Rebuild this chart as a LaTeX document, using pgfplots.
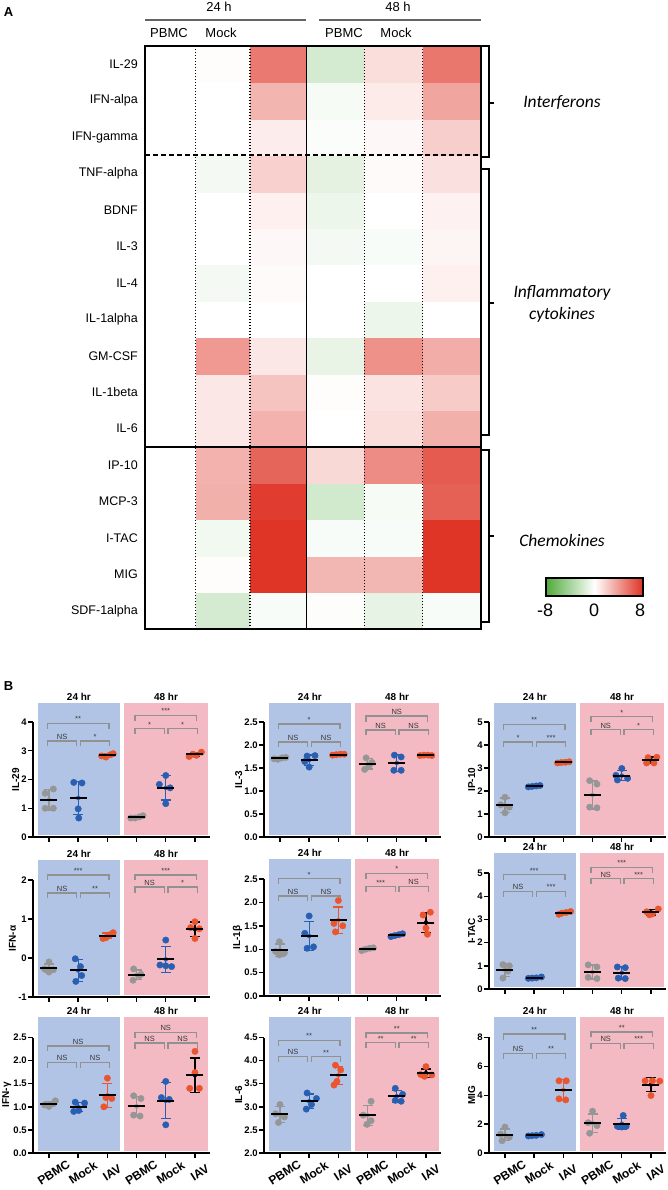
\documentclass[border=0pt]{standalone}
\usepackage{pgfplots}
\pgfplotsset{compat=1.18}
\usepackage{fontspec}
\setmainfont{Liberation Sans}
\newfontfamily\calib{Carlito}
\definecolor{bbg}{RGB}{178,196,229}
\definecolor{pbg}{RGB}{244,186,196}
\definecolor{cg}{RGB}{150,150,150}
\definecolor{cb}{RGB}{40,95,178}
\definecolor{co}{RGB}{234,85,45}
\definecolor{sg}{RGB}{145,145,145}
\definecolor{st}{RGB}{55,55,55}
\definecolor{hg}{RGB}{80,170,60}
\definecolor{hr}{RGB}{222,50,36}
\definecolor{hl}{RGB}{100,100,100}
\pgfplotsset{
 bpanel/.style={
  scale only axis, anchor=south west, clip=false,
  x=29.2pt, xmin=0.45, xmax=6.5,
  axis x line*=bottom, axis y line*=left,
  x axis line style={line width=1.6pt, -},
  y axis line style={draw=none},
  xtick={1,2,3,4,5,6}, xticklabels={},
  major tick length=5pt, tick align=outside,
  tick style={black, line width=1.4pt},
  ticklabel style={font=\bfseries\fontsize{9.5}{10}\selectfont},
  yticklabel style={inner sep=1pt},
  ylabel style={font=\bfseries\fontsize{10}{11}\selectfont, inner sep=1pt, at={(ticklabel cs:0.427)}},
  /pgf/number format/assume math mode=true,
 },
 dec/.style={/pgf/number format/.cd, fixed, precision=1, fixed zerofill},
 rowthree/.style={xticklabels={PBMC,Mock,IAV,PBMC,Mock,IAV},
   xticklabel style={rotate=33, anchor=center, yshift=-15pt, xshift=-4pt, font=\bfseries\fontsize{12}{13}\selectfont}},
}
\newcommand{\bg}[3]{%
 \fill[bbg] ([yshift=2.5pt]axis cs:0.62,#1) rectangle (axis cs:3.43,#2);
 \fill[pbg] ([yshift=2.5pt]axis cs:3.57,#1) rectangle (axis cs:6.45,#2);
 \draw[line width=1.6pt] ([yshift=-0.8pt]axis cs:0.45,#1) -- (axis cs:0.45,#3);
 \node[anchor=south, inner sep=0pt, font=\bfseries\fontsize{10}{11}\selectfont] at ([yshift=2pt]axis cs:2.025,#2) {24 hr};
 \node[anchor=south, inner sep=0pt, font=\bfseries\fontsize{10}{11}\selectfont] at ([yshift=2pt]axis cs:5.01,#2) {48 hr};
}
\newcommand{\eb}[4]{\addplot[only marks, mark=none, #1, error bars/.cd, y dir=both, y explicit, error bar style={line width=1.3pt, #1}, error mark options={rotate=90, mark size=5pt, line width=1.3pt, #1}] coordinates {(#2,#3) +- (0,#4)};}
\newcommand{\pts}[1]{\addplot[scatter, only marks, mark=*, mark size=3.2pt, scatter src=explicit symbolic, scatter/classes={g={mark=*,draw=cg,fill=cg}, b={mark=*,draw=cb,fill=cb}, o={mark=*,draw=co,fill=co}}] coordinates {#1};}
\newcommand{\mns}[1]{\addplot[only marks, mark=-, mark size=8.5pt, mark options={line width=2pt}, black] coordinates {#1};}
\newcommand{\brk}[4]{\draw[sg, line width=1.5pt] ([yshift=-5.5pt]axis cs:#1,#3) -- (axis cs:#1,#3) -- node[anchor=south, inner sep=0.7pt, text=st, font=\fontsize{7.5}{8}\selectfont]{#4} (axis cs:#2,#3) -- ([yshift=-5.5pt]axis cs:#2,#3);}
\newcommand{\sigA}[5]{\brk{0.95}{3.05}{#1}{#3}\brk{0.95}{1.95}{#2}{#4}\brk{2.08}{3.08}{#2}{#5}}
\newcommand{\sigB}[5]{\brk{3.95}{6.05}{#1}{#3}\brk{3.95}{4.95}{#2}{#4}\brk{5.08}{6.08}{#2}{#5}}
\begin{document}
\begin{tikzpicture}
\useasboundingbox (0pt,0pt) rectangle (667pt,-1190pt);
% ---------------- Panel A ----------------
\node[font=\bfseries\fontsize{13}{14}\selectfont] at (8.5pt,-12pt) {A};
\node[font=\fontsize{13}{14}\selectfont] at (219pt,-7pt) {24 h};
\node[font=\fontsize{13}{14}\selectfont] at (398pt,-7pt) {48 h};
\draw[hl, line width=1.2pt] (145pt,-20pt) -- (306pt,-20pt);
\draw[hl, line width=1.2pt] (319pt,-20pt) -- (481pt,-20pt);
\node[font=\fontsize{13}{14}\selectfont] at (169pt,-33pt) {PBMC};
\node[font=\fontsize{13}{14}\selectfont] at (221pt,-33pt) {Mock};
\node[font=\fontsize{13}{14}\selectfont] at (344pt,-33pt) {PBMC};
\node[font=\fontsize{13}{14}\selectfont] at (396pt,-33pt) {Mock};
\begin{axis}[at={(145pt,-629pt)}, anchor=south west, scale only axis,
 width=336pt, height=583pt, xmin=145, xmax=481, ymin=-0.5, ymax=15.5,
 colormap={gwr}{rgb255=(80,170,60) rgb255=(255,255,255) rgb255=(222,50,36)},
 point meta min=-8, point meta max=8,
 xtick=\empty, ytick={0,...,15},
 yticklabels={SDF-1alpha,MIG,I-TAC,MCP-3,IP-10,IL-6,IL-1beta,GM-CSF,IL-1alpha,IL-4,IL-3,BDNF,TNF-alpha,IFN-gamma,IFN-alpa,IL-29},
 major tick length=0pt, tick style={draw=none},
 yticklabel style={font=\fontsize{12.5}{14}\selectfont, inner sep=0pt, xshift=-7pt},
 axis line style={line width=2pt}, axis on top]
\addplot[matrix plot*, mesh/cols=6, point meta=explicit] table[meta=c] {
x y c
169.5 0 0
222 0 -1.9
278 0 -0.3
335 0 -0.1
393.5 0 -1.1
452 0 -0.3
169.5 1 0
222 1 0.1
278 1 7.9
335 1 2.8
393.5 1 2.8
452 1 7.9
169.5 2 0
222 2 -0.6
278 2 7.9
335 2 -0.3
393.5 2 -0.3
452 2 7.9
169.5 3 0
222 3 3.1
278 3 7.6
335 3 -2.1
393.5 3 -0.4
452 3 6.2
169.5 4 0
222 4 3.0
278 4 6.0
335 4 1.5
393.5 4 4.5
452 4 6.4
169.5 5 0
222 5 0.9
278 5 3.0
335 5 0
393.5 5 1.3
452 5 3.1
169.5 6 0
222 6 0.9
278 6 2.3
335 6 0.1
393.5 6 1.1
452 6 2.0
169.5 7 0
222 7 4.0
278 7 0.9
335 7 -1.0
393.5 7 4.3
452 7 3.2
169.5 8 0
222 8 0
278 8 0
335 8 0
393.5 8 -0.8
452 8 0
169.5 9 0
222 9 -0.5
278 9 0.2
335 9 0
393.5 9 0
452 9 0.6
169.5 10 0
222 10 0
278 10 0.3
335 10 -0.5
393.5 10 -0.3
452 10 0.4
169.5 11 0
222 11 0
278 11 0.6
335 11 -0.8
393.5 11 0
452 11 0.5
169.5 12 0
222 12 -0.5
278 12 1.8
335 12 -1.2
393.5 12 0.2
452 12 1.2
169.5 13 0
222 13 0
278 13 0.7
335 13 -0.2
393.5 13 0.3
452 13 1.9
169.5 14 0
222 14 0
278 14 2.9
335 14 -0.4
393.5 14 0.8
452 14 3.5
169.5 15 0
222 15 0.1
278 15 5.2
335 15 -1.9
393.5 15 1.3
452 15 5.3
};
\draw[line width=1.4pt, dash pattern=on 1.4pt off 1.6pt] (axis cs:195.75,-0.5) -- (axis cs:195.75,15.5);
\draw[line width=1.4pt, dash pattern=on 1.4pt off 1.6pt] (axis cs:250,-0.5) -- (axis cs:250,15.5);
\draw[line width=1.4pt, dash pattern=on 1.4pt off 1.6pt] (axis cs:364.25,-0.5) -- (axis cs:364.25,15.5);
\draw[line width=1.4pt, dash pattern=on 1.4pt off 1.6pt] (axis cs:422.75,-0.5) -- (axis cs:422.75,15.5);
\draw[line width=1.6pt] (axis cs:306.5,-0.5) -- (axis cs:306.5,15.5);
\draw[line width=1.8pt, dash pattern=on 5pt off 3pt] (axis cs:145,12.5) -- (axis cs:481,12.5);
\draw[line width=1.6pt] (axis cs:145,4.5) -- (axis cs:481,4.5);
\end{axis}
% brackets
\draw[line width=1.8pt] (482pt,-46pt) -- (489pt,-46pt) -- (489pt,-157pt) -- (482pt,-157pt);
\draw[line width=1.8pt] (489pt,-103pt) -- (494pt,-103pt);
\draw[line width=1.8pt] (482pt,-169pt) -- (489pt,-169pt) -- (489pt,-435pt) -- (482pt,-435pt);
\draw[line width=1.8pt] (489pt,-303pt) -- (494pt,-303pt);
\draw[line width=1.8pt] (482pt,-450pt) -- (489pt,-450pt) -- (489pt,-622pt) -- (482pt,-622pt);
\draw[line width=1.8pt] (489pt,-536pt) -- (494pt,-536pt);
\node[font=\calib\itshape\fontsize{17.5}{19}\selectfont] at (562pt,-103pt) {Interferons};
\node[font=\calib\itshape\fontsize{17.5}{19}\selectfont] at (562pt,-293pt) {Inflammatory};
\node[font=\calib\itshape\fontsize{17.5}{19}\selectfont] at (562pt,-315pt) {cytokines};
\node[font=\calib\itshape\fontsize{17.5}{19}\selectfont] at (562pt,-540pt) {Chemokines};
% colorbar
\shade[left color=hg, right color=hr, middle color=white] (546pt,-578pt) rectangle (643pt,-596pt);
\draw[line width=1.2pt] (546pt,-578pt) rectangle (643pt,-596pt);
\node[font=\fontsize{18}{20}\selectfont] at (545pt,-610pt) {-8};
\node[font=\fontsize{18}{20}\selectfont] at (594pt,-610pt) {0};
\node[font=\fontsize{18}{20}\selectfont] at (640pt,-610pt) {8};
% ---------------- Panel B ----------------
\node[font=\bfseries\fontsize{13}{14}\selectfont] at (8.5pt,-686pt) {B};
% IL-29
\begin{axis}[bpanel, at={(32.9pt,-837pt)}, y=28.75pt, ymin=0, ymax=4.661, ytick={0,1,2,3,4}, ylabel={IL-29}]
\bg{0}{4.661}{4}
\eb{cg}{1}{1.30}{0.36}\eb{cb}{2}{1.36}{0.58}\eb{co}{3}{2.84}{0.05}
\eb{cg}{4}{0.69}{0.04}\eb{cb}{5}{1.71}{0.42}\eb{black}{6}{2.87}{0.07}
\pts{(1.15,1.67)[g] (0.87,1.52)[g] (0.87,1.0)[g] (1.15,1.0)[g]
(1.85,1.9)[b] (2.13,1.88)[b] (2.0,0.98)[b] (2.02,0.66)[b]
(2.8,2.82)[o] (2.95,2.78)[o] (3.1,2.86)[o] (3.2,2.9)[o]
(3.8,0.66)[g] (3.95,0.66)[g] (4.1,0.7)[g] (4.22,0.74)[g]
(5.0,2.14)[b] (4.78,1.83)[b] (5.15,1.71)[b] (5.0,1.16)[b]
(5.8,2.8)[o] (6.05,2.84)[o] (6.22,2.95)[o] (5.93,2.88)[o]}
\mns{(1,1.30) (2,1.36) (3,2.84) (4,0.69) (5,1.71) (6,2.87)}
\sigA{3.95}{3.34}{**}{NS}{*}\sigB{4.23}{3.77}{***}{*}{*}
\end{axis}
% IL-3
\begin{axis}[bpanel, at={(263.9pt,-837pt)}, y=46pt, ymin=0, ymax=2.913, ytick={0,0.5,1,1.5,2,2.5}, yticklabel style={dec}, ylabel={IL-3}]
\bg{0}{2.913}{2.5}
\eb{cg}{1}{1.71}{0.02}\eb{cb}{2}{1.67}{0.11}\eb{co}{3}{1.79}{0.015}
\eb{cg}{4}{1.59}{0.11}\eb{cb}{5}{1.61}{0.18}\eb{black}{6}{1.78}{0.01}
\pts{(0.8,1.70)[g] (0.93,1.69)[g] (1.07,1.72)[g] (1.2,1.73)[g]
(1.93,1.76)[b] (2.2,1.77)[b] (1.85,1.64)[b] (2.0,1.52)[b]
(2.8,1.78)[o] (2.93,1.79)[o] (3.07,1.80)[o] (3.2,1.80)[o]
(3.95,1.72)[g] (4.15,1.62)[g] (3.9,1.47)[g] (4.05,1.55)[g]
(4.92,1.78)[b] (5.15,1.74)[b] (4.9,1.45)[b] (5.15,1.45)[b]
(5.8,1.77)[o] (5.93,1.78)[o] (6.07,1.78)[o] (6.2,1.77)[o]}
\mns{(1,1.71) (2,1.67) (3,1.79) (4,1.59) (5,1.61) (6,1.78)}
\sigA{2.46}{2.07}{*}{NS}{NS}\sigB{2.63}{2.33}{NS}{NS}{NS}
\end{axis}
% IP-10
\begin{axis}[bpanel, at={(488.9pt,-837pt)}, y=23pt, ymin=0, ymax=5.826, ytick={0,1,2,3,4,5}, ylabel={IP-10}]
\bg{0}{5.826}{5}
\eb{cg}{1}{1.38}{0.31}\eb{cb}{2}{2.21}{0.03}\eb{co}{3}{3.245}{0.02}
\eb{cg}{4}{1.83}{0.61}\eb{cb}{5}{2.67}{0.22}\eb{black}{6}{3.34}{0.14}
\pts{(1.0,1.73)[g] (0.85,1.4)[g] (1.15,1.3)[g] (1.0,1.05)[g]
(1.8,2.18)[b] (1.93,2.2)[b] (2.07,2.22)[b] (2.2,2.24)[b]
(2.8,3.22)[o] (2.93,3.24)[o] (3.07,3.25)[o] (3.2,3.27)[o]
(3.9,2.45)[g] (4.15,2.3)[g] (3.9,1.3)[g] (4.15,1.27)[g]
(5.0,2.98)[b] (4.8,2.68)[b] (5.2,2.55)[b] (4.85,2.48)[b]
(5.9,3.45)[o] (6.2,3.47)[o] (5.85,3.22)[o] (6.1,3.22)[o]}
\mns{(1,1.38) (2,2.21) (3,3.245) (4,1.83) (5,2.67) (6,3.34)}
\sigA{4.9}{4.14}{**}{*}{***}\sigB{5.24}{4.67}{*}{NS}{*}
\end{axis}
% IFN-alpha
\begin{axis}[bpanel, at={(32.9pt,-997pt)}, y=39pt, ymin=-1, ymax=2.513, ytick={-1,0,1,2}, ylabel={IFN-α}]
\bg{-1}{2.513}{2}
\eb{cg}{1}{-0.26}{0.11}\eb{cb}{2}{-0.32}{0.28}\eb{co}{3}{0.57}{0.07}
\eb{cg}{4}{-0.43}{0.12}\eb{cb}{5}{-0.035}{0.33}\eb{black}{6}{0.74}{0.18}
\pts{(1.0,-0.1)[g] (0.85,-0.28)[g] (1.15,-0.3)[g] (1.0,-0.36)[g]
(1.9,-0.02)[b] (2.08,-0.22)[b] (2.12,-0.45)[b] (1.92,-0.6)[b]
(2.85,0.5)[o] (2.95,0.52)[o] (3.1,0.6)[o] (3.2,0.65)[o]
(3.9,-0.28)[g] (4.15,-0.42)[g] (3.88,-0.57)[g] (4.1,-0.45)[g]
(5.0,0.46)[b] (4.8,-0.18)[b] (5.0,-0.2)[b] (5.2,-0.22)[b]
(6.0,0.93)[o] (5.85,0.78)[o] (6.15,0.75)[o] (6.0,0.5)[o]}
\mns{(1,-0.26) (2,-0.32) (3,0.57) (4,-0.43) (5,-0.035) (6,0.74)}
\sigA{2.13}{1.67}{***}{NS}{**}\sigB{2.13}{1.82}{***}{NS}{*}
\end{axis}
% IL-1beta
\begin{axis}[bpanel, at={(263.9pt,-996pt)}, y=46.8pt, ymin=0, ymax=2.927, ytick={0,0.5,1,1.5,2,2.5}, yticklabel style={dec}, ylabel={IL-1β}]
\bg{0}{2.927}{2.5}
\eb{cg}{1}{0.98}{0.13}\eb{cb}{2}{1.28}{0.31}\eb{co}{3}{1.62}{0.28}
\eb{cg}{4}{1.0}{0.03}\eb{cb}{5}{1.30}{0.03}\eb{black}{6}{1.57}{0.21}
\pts{(0.98,1.16)[g] (0.85,0.95)[g] (1.15,0.92)[g] (0.98,0.88)[g]
(2.0,1.71)[b] (1.85,1.34)[b] (1.93,1.02)[b] (2.15,1.05)[b]
(3.0,2.04)[o] (2.85,1.55)[o] (3.15,1.5)[o] (2.9,1.37)[o]
(3.8,0.97)[g] (3.93,1.0)[g] (4.07,1.02)[g] (4.2,1.03)[g]
(4.8,1.27)[b] (4.93,1.29)[b] (5.07,1.31)[b] (5.2,1.33)[b]
(6.15,1.79)[o] (5.9,1.73)[o] (6.0,1.45)[o] (6.05,1.32)[o]}
\mns{(1,0.98) (2,1.28) (3,1.62) (4,1.0) (5,1.30) (6,1.57)}
\sigA{2.51}{2.14}{*}{NS}{NS}\sigB{2.62}{2.34}{*}{***}{NS}
\end{axis}
% I-TAC
\begin{axis}[bpanel, at={(488.9pt,-989pt)}, y=23.2pt, ymin=0, ymax=5.862, ytick={0,1,2,3,4,5}, ylabel={I-TAC}]
\bg{0}{5.862}{5}
\eb{cg}{1}{0.82}{0.27}\eb{cb}{2}{0.48}{0.03}\eb{co}{3}{3.28}{0.05}
\eb{cg}{4}{0.735}{0.3}\eb{cb}{5}{0.70}{0.28}\eb{black}{6}{3.305}{0.11}
\pts{(0.93,1.05)[g] (1.15,1.0)[g] (1.1,0.77)[g] (0.93,0.47)[g]
(1.8,0.46)[b] (1.93,0.47)[b] (2.07,0.48)[b] (2.25,0.52)[b]
(2.85,3.22)[o] (2.95,3.27)[o] (3.1,3.3)[o] (3.25,3.34)[o]
(3.85,1.04)[g] (4.15,0.95)[g] (3.85,0.5)[g] (4.15,0.45)[g]
(4.85,0.95)[b] (5.12,0.92)[b] (4.88,0.47)[b] (5.12,0.45)[b]
(6.25,3.45)[o] (5.85,3.33)[o] (6.05,3.24)[o] (5.95,3.2)[o]}
\mns{(1,0.82) (2,0.48) (3,3.28) (4,0.735) (5,0.70) (6,3.305)}
\sigA{4.93}{4.21}{***}{NS}{***}\sigB{5.24}{4.76}{***}{NS}{***}
\end{axis}
% IFN-gamma
\begin{axis}[bpanel, rowthree, at={(32.9pt,-1153pt)}, y=46.2pt, ymin=0, ymax=2.944, ytick={0,0.5,1,1.5,2,2.5}, yticklabel style={dec}, ylabel={IFN-γ}]
\bg{0}{2.944}{2.5}
\eb{cg}{1}{1.06}{0.05}\eb{cb}{2}{1.0}{0.1}\eb{co}{3}{1.25}{0.26}
\eb{cg}{4}{1.01}{0.22}\eb{cb}{5}{1.13}{0.39}\eb{black}{6}{1.685}{0.37}
\pts{(0.85,1.04)[g] (1.0,1.01)[g] (1.15,1.07)[g] (1.22,1.13)[g]
(1.9,1.1)[b] (2.22,1.08)[b] (2.02,0.92)[b] (1.85,0.9)[b]
(3.0,1.62)[o] (2.95,1.2)[o] (3.15,1.18)[o] (2.88,1.0)[o]
(3.9,1.24)[g] (4.15,1.18)[g] (3.9,0.82)[g] (4.12,0.8)[g]
(5.0,1.55)[b] (4.85,1.2)[b] (5.12,1.16)[b] (5.0,0.61)[b]
(6.0,2.2)[o] (6.0,1.74)[o] (5.82,1.4)[o] (6.15,1.4)[o]}
\mns{(1,1.06) (2,1.0) (3,1.25) (4,1.01) (5,1.13) (6,1.685)}
\sigA{2.32}{1.96}{NS}{NS}{NS}\sigB{2.61}{2.38}{NS}{NS}{NS}
\end{axis}
% IL-6
\begin{axis}[bpanel, rowthree, at={(263.9pt,-1153pt)}, y=46.2pt, ymin=2, ymax=4.944, ytick={2,2.5,3,3.5,4,4.5}, yticklabel style={dec}, ylabel={IL-6}]
\bg{2}{4.944}{4.5}
\eb{cg}{1}{2.835}{0.17}\eb{cb}{2}{3.12}{0.16}\eb{co}{3}{3.68}{0.2}
\eb{cg}{4}{2.815}{0.22}\eb{cb}{5}{3.23}{0.13}\eb{black}{6}{3.73}{0.09}
\pts{(1.0,3.05)[g] (0.85,2.85)[g] (1.15,2.78)[g] (0.95,2.66)[g]
(1.93,3.3)[b] (2.25,3.18)[b] (2.08,3.05)[b] (1.9,2.95)[b]
(2.9,3.9)[o] (3.08,3.8)[o] (2.95,3.55)[o] (2.85,3.47)[o]
(4.12,3.12)[g] (3.85,2.82)[g] (4.12,2.7)[g] (3.98,2.62)[g]
(4.95,3.4)[b] (5.2,3.27)[b] (4.95,3.14)[b] (5.15,3.12)[b]
(6.0,3.87)[o] (5.82,3.7)[o] (6.2,3.69)[o] (5.95,3.66)[o]}
\mns{(1,2.835) (2,3.12) (3,3.68) (4,2.815) (5,3.23) (6,3.73)}
\sigA{4.44}{4.09}{**}{NS}{**}\sigB{4.6}{4.39}{**}{**}{**}
\end{axis}
% MIG
\begin{axis}[bpanel, rowthree, at={(488.9pt,-1153pt)}, y=14.44pt, ymin=0, ymax=9.418, ytick={0,2,4,6,8}, ylabel={MIG}]
\bg{0}{9.418}{8}
\eb{cg}{1}{1.26}{0.4}\eb{cb}{2}{1.22}{0.04}\eb{co}{3}{4.36}{0.73}
\eb{cg}{4}{2.07}{0.63}\eb{cb}{5}{2.03}{0.38}\eb{black}{6}{4.74}{0.5}
\pts{(1.0,1.8)[g] (0.85,1.3)[g] (1.15,1.1)[g] (0.9,0.85)[g]
(1.8,1.18)[b] (1.93,1.2)[b] (2.07,1.22)[b] (2.25,1.28)[b]
(2.85,5.0)[o] (3.1,5.0)[o] (2.85,3.75)[o] (3.08,3.68)[o]
(4.0,2.9)[g] (3.85,2.1)[g] (4.15,1.9)[g] (3.9,1.37)[g]
(5.05,2.6)[b] (4.85,1.85)[b] (5.15,1.85)[b] (5.0,1.8)[b]
(5.8,5.0)[o] (6.05,5.0)[o] (6.3,4.98)[o] (6.0,3.98)[o]}
\mns{(1,1.26) (2,1.22) (3,4.36) (4,2.07) (5,2.03) (6,4.74)}
\sigA{8.23}{6.9}{**}{NS}{**}\sigB{8.39}{7.59}{**}{NS}{***}
\end{axis}
\end{tikzpicture}
\end{document}
